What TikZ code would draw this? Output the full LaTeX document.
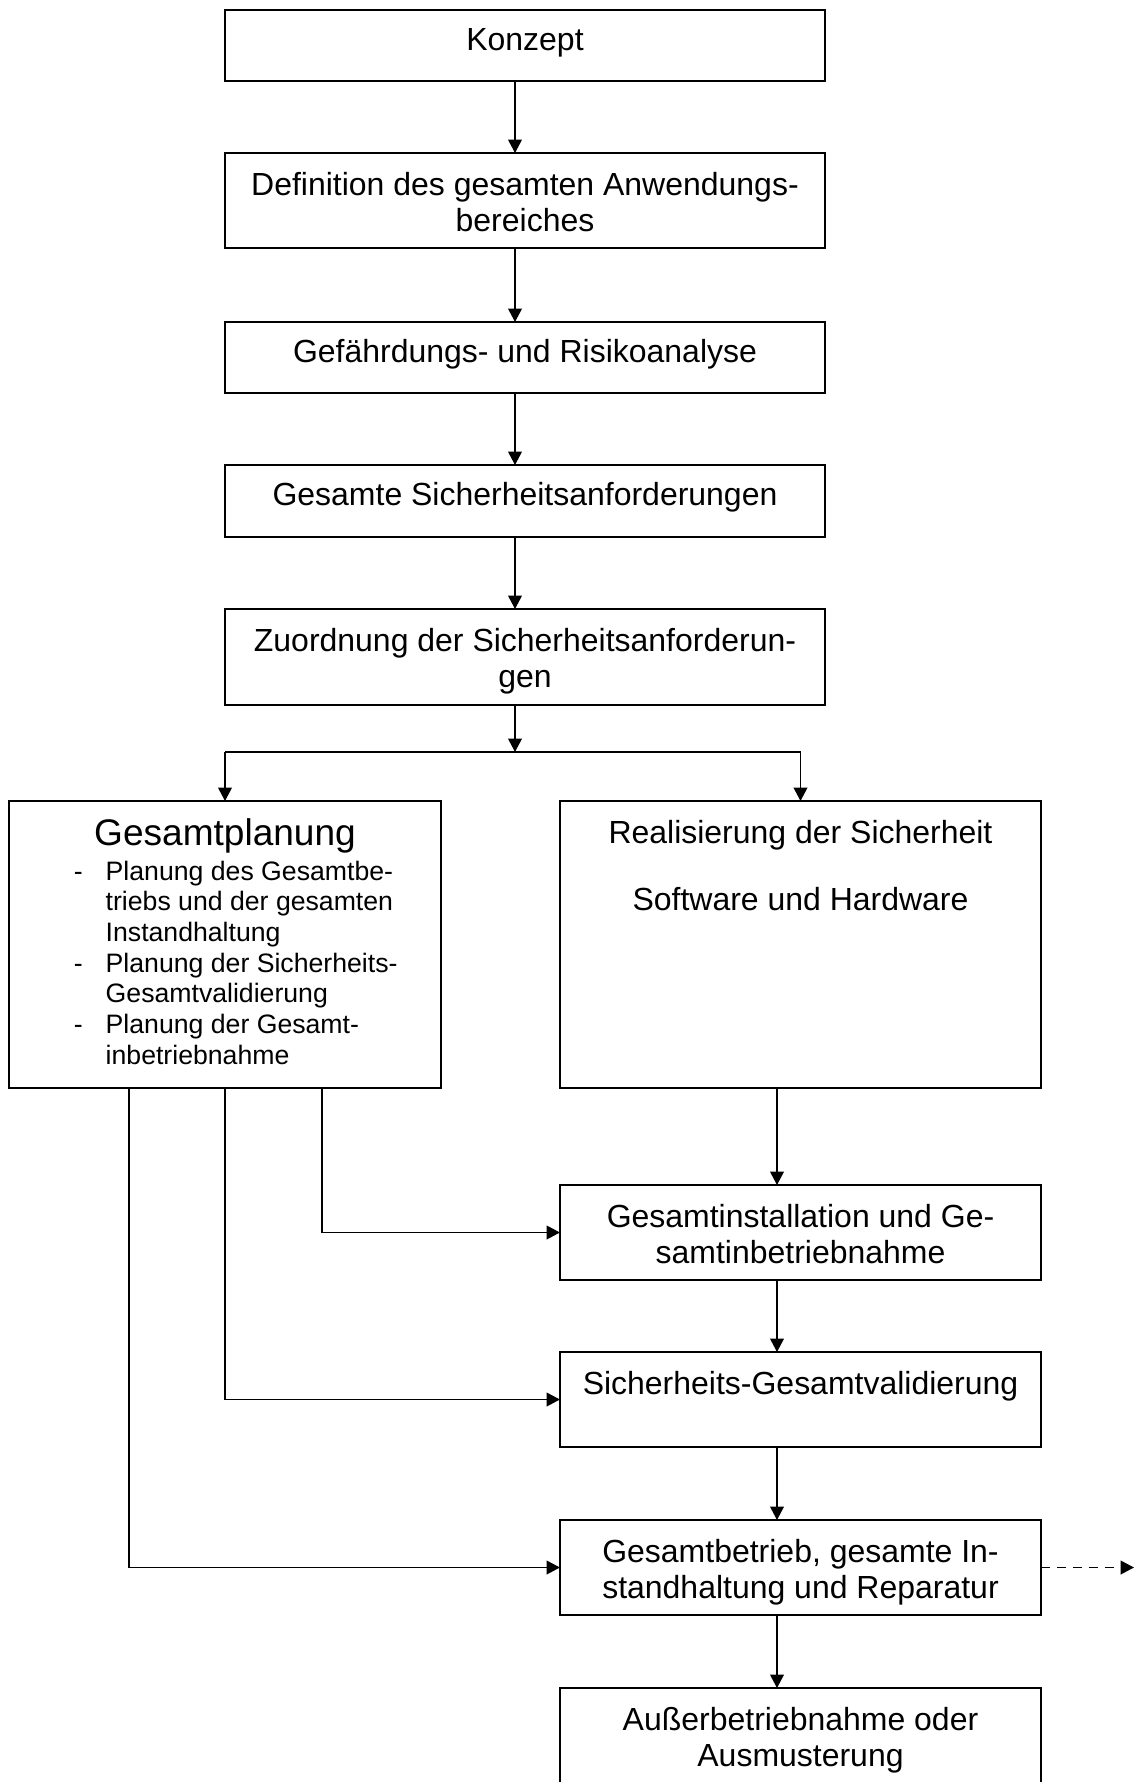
\documentclass[tikz,border=0pt]{standalone}
\usepackage{fontspec}
\setmainfont{Liberation Sans}
\usetikzlibrary{arrows.meta}
\newdimen\pxu
\pxu=0.394pt
\setlength{\parskip}{0pt}
% #1 top inset, #2 width px, #3 height px, #4 text
\newcommand{\bxi}[4]{\parbox[c][#3\pxu][t]{#2\pxu}{\fontsize{12.6pt}{14.1pt}\selectfont\centering\vspace*{#1}\strut #4\par}}
\newcommand{\bx}{\bxi{6.8pt}}
\newcommand{\bxs}{\bxi{5.9pt}}
\tikzset{
  box/.style={draw, line width=0.8pt, inner sep=0pt, outer sep=0pt, rectangle},
  arr/.style={line width=0.75pt, -{Triangle[length=5.3pt,width=5.4pt]}},
  ln/.style={line width=0.75pt},
}
\begin{document}
\begin{tikzpicture}[x=0.394pt,y=-0.394pt]
\useasboundingbox (0,0) rectangle (1136,1782);
\clip (0,0) rectangle (1136,1782);

\node[box] (konzept) at (525,45.5) {\bxs{600}{71}{Konzept}};
\node[box] (def) at (525,200.5) {\bx{600}{95}{Definition des gesamten Anwendungs-\\bereiches}};
\node[box] (gef) at (525,357.5) {\bxs{600}{71}{Gefährdungs- und Risikoanalyse}};
\node[box] (ges) at (525,501) {\bxs{600}{72}{Gesamte Sicherheitsanforderungen}};
\node[box] (zuo) at (525,657) {\bx{600}{96}{Zuordnung der Sicherheitsanforderun-\\gen}};

\node[box] (plan) at (225,944.5) {\parbox[c][287\pxu][t]{432\pxu}{\vspace*{6pt}%
  {\centering\fontsize{14.6pt}{16.7pt}\selectfont\strut Gesamtplanung\par}%
  \nointerlineskip
  \fontsize{10.5pt}{12.1pt}\selectfont\noindent\hspace*{25.6pt}%
  \begin{tabular}[t]{@{}p{12.5pt}@{}l@{}}
  -&Planung des Gesamtbe-\\
   &triebs und der gesamten\\
   &Instandhaltung\\
  -&Planung der Sicherheits-\\
   &Gesamtvalidierung\\
  -&Planung der Gesamt-\\
   &inbetriebnahme
  \end{tabular}\par}};

\node[box] (real) at (800.5,944.5) {\bx{481}{287}{Realisierung der Sicherheit\\[12.3pt]Software und Hardware}};
\node[box] (inst) at (800.5,1232.5) {\bx{481}{95}{Gesamtinstallation und Ge-\\samtinbetriebnahme}};
\node[box] (val) at (800.5,1399.5) {\bx{481}{95}{Sicherheits-Gesamtvalidierung}};
\node[box] (betr) at (800.5,1567.5) {\bx{481}{95}{Gesamtbetrieb, gesamte In-\\standhaltung und Reparatur}};
\node[box] (auss) at (800.5,1735.5) {\bx{481}{95}{Außerbetriebnahme oder\\Ausmusterung}};

\coordinate (junc) at (515,752);
\coordinate (out) at (1134,1567.5);

\draw[arr] ([xshift=-3.94pt]konzept.south) -- ([xshift=-3.94pt]def.north);
\draw[arr] ([xshift=-3.94pt]def.south) -- ([xshift=-3.94pt]gef.north);
\draw[arr] ([xshift=-3.94pt]gef.south) -- ([xshift=-3.94pt]ges.north);
\draw[arr] ([xshift=-3.94pt]ges.south) -- ([xshift=-3.94pt]zuo.north);
\draw[arr] ([xshift=-3.94pt]zuo.south) -- (junc);
\draw[ln] (plan.north |- junc) -- (real.north |- junc);
\draw[arr] (plan.north |- junc) -- (plan.north);
\draw[arr] (real.north |- junc) -- (real.north);

\draw[arr] ([xshift=-9.26pt]real.south) -- ([xshift=-9.26pt]inst.north);
\draw[arr] ([xshift=-9.26pt]inst.south) -- ([xshift=-9.26pt]val.north);
\draw[arr] ([xshift=-9.26pt]val.south) -- ([xshift=-9.26pt]betr.north);
\draw[arr] ([xshift=-9.26pt]betr.south) -- ([xshift=-9.26pt]auss.north);

\draw[arr] ([xshift=38.2pt]plan.south) |- (inst.west);
\draw[arr] (plan.south) |- (val.west);
\draw[arr] ([xshift=-37.8pt]plan.south) |- (betr.west);

\draw[arr, dash pattern=on 3.5pt off 2.8pt] (betr.east) -- (out);
\end{tikzpicture}
\end{document}
